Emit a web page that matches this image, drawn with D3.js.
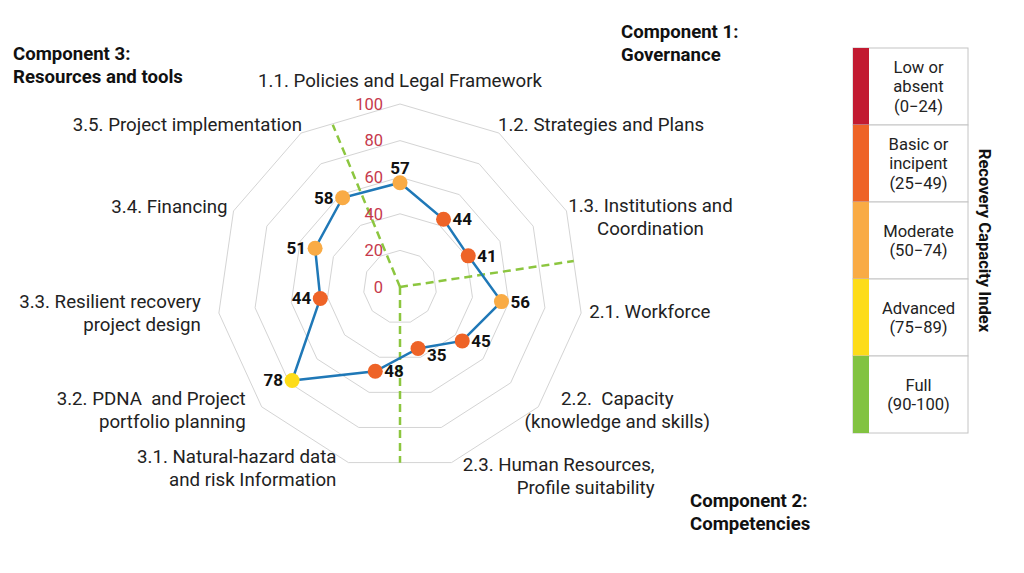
<!DOCTYPE html>
<html lang="en">
<head>
<meta charset="utf-8" />
<script src="https://cdnjs.cloudflare.com/ajax/libs/d3/7.8.5/d3.min.js"></script>
<style type="text/css">
    body { margin: 0; background: #fff; }
    svg { font-family: Roboto, "Open Sans", sans-serif; display: block; }
    svg text { white-space: pre; }
</style>
</head>
<body>
<div id="chart"></div>
<script type="text/javascript">
    // data
    var axes = [
        ["1.1. Policies and Legal Framework"],
        ["1.2. Strategies and Plans"],
        ["1.3. Institutions and", "Coordination"],
        ["2.1. Workforce"],
        ["2.2.  Capacity", "(knowledge and skills)"],
        ["2.3. Human Resources,", "Profile suitability"],
        ["3.1. Natural-hazard data", "and risk Information"],
        ["3.2. PDNA  and Project", "portfolio planning"],
        ["3.3. Resilient recovery", "project design"],
        ["3.4. Financing"],
        ["3.5. Project implementation"]
    ];
    var scores = [57, 44, 41, 56, 45, 35, 48, 78, 44, 51, 58];
    var ringTicks = [0, 20, 40, 60, 80, 100];
    var components = [
        ["Component 1:", "Governance"],
        ["Component 2:", "Competencies"],
        ["Component 3:", "Resources and tools"]
    ];
    var levelNames = [
        ["Low or", "absent", "(0\u221224)"],
        ["Basic or", "incipent", "(25\u221249)"],
        ["Moderate", "(50\u221274)"],
        ["Advanced", "(75\u221289)"],
        ["Full", "(90-100)"]
    ];
    var levelBreaks = [25, 50, 75, 90];
    var levelColors = ["#c21a31", "#ee6327", "#f9ab45", "#fddc19", "#82c341"];
    var legendTitle = "Recovery Capacity Index";

    var width = 1024, height = 573;
    var cx = 400, cy = 287, R = 183;

    var svg = d3.select("#chart").append("svg")
        .attr("width", width)
        .attr("height", height);

    var n = axes.length;
    var angle = d3.scaleLinear().domain([0, n]).range([0, 2 * Math.PI]);
    var r = d3.scaleLinear().domain([0, 100]).range([0, R]);
    var level = d3.scaleThreshold().domain(levelBreaks).range(levelColors);

    function pt(i, v) {
        var a = angle(i);
        return [cx + r(v) * Math.sin(a), cy - r(v) * Math.cos(a)];
    }

    // grid rings (hendecagons)
    var ring = d3.line();
    svg.append("g").selectAll("path")
        .data(ringTicks.slice(1))
        .enter().append("path")
        .attr("d", function (t) {
            return ring(d3.range(n).map(function (i) { return pt(i, t); })) + "Z";
        })
        .attr("fill", "none")
        .attr("stroke", "#d4d4d4")
        .attr("stroke-width", 1);

    // component dividers (green dashes)
    var dividers = [81.5, 180, 337.5];
    svg.append("g").selectAll("line")
        .data(dividers)
        .enter().append("line")
        .attr("x1", cx).attr("y1", cy)
        .attr("x2", function (d) { return cx + r(96) * Math.sin(d * Math.PI / 180); })
        .attr("y2", function (d) { return cy - r(96) * Math.cos(d * Math.PI / 180); })
        .attr("stroke", "#8cc63f")
        .attr("stroke-width", 2.5)
        .attr("stroke-dasharray", "8,5");

    // tick labels
    svg.append("g").selectAll("text")
        .data(ringTicks)
        .enter().append("text")
        .attr("x", cx - 17)
        .attr("y", function (t) { return cy - r(t); })
        .attr("dy", "0.35em")
        .attr("text-anchor", "end")
        .attr("fill", "#c6394c")
        .style("font-size", "16.5px")
        .text(function (t) { return t; });

    // axis labels: offset from the 100-ring vertex, anchor
    var labelLayout = [
        [0, -24, "middle"], [-1, -9, "start"], [84, -6, "middle"], [8, -2, "start"],
        [79, -8, "middle"], [203, 2, "end"], [-12, -6, "end"], [-16, -8, "end"],
        [-18, -12, "end"], [-6, -5, "end"], [1, -9, "end"]
    ];
    var axisLabels = svg.append("g").selectAll("text")
        .data(axes)
        .enter().append("text")
        .attr("text-anchor", function (d, i) { return labelLayout[i][2]; })
        .attr("fill", "#222")
        .style("font-size", "18.7px");
    axisLabels.each(function (lines, i) {
        var p = pt(i, 100);
        var x = p[0] + labelLayout[i][0], y = p[1] + labelLayout[i][1];
        d3.select(this).selectAll("tspan")
            .data(lines)
            .enter().append("tspan")
            .attr("x", x)
            .attr("y", function (l, j) { return y + j * 23; })
            .attr("dy", "0.35em")
            .text(function (l) { return l; });
    });

    // score line
    var pts = scores.map(function (v, i) { return pt(i, v); });
    svg.append("path")
        .attr("d", ring(pts) + "Z")
        .attr("fill", "none")
        .attr("stroke", "#1f78b7")
        .attr("stroke-width", 2.5);

    svg.append("g").selectAll("circle")
        .data(scores)
        .enter().append("circle")
        .attr("cx", function (v, i) { return pts[i][0]; })
        .attr("cy", function (v, i) { return pts[i][1]; })
        .attr("r", 7.5)
        .attr("fill", function (v) { return level(v); });

    // value labels
    var side = ["top", "right", "right", "right", "right", "below", "right", "left", "left", "left", "left"];
    svg.append("g").selectAll("text")
        .data(scores)
        .enter().append("text")
        .attr("x", function (v, i) {
            var s = side[i];
            if (s == "top") return pts[i][0];
            if (s == "left") return pts[i][0] - 9;
            return pts[i][0] + 9;
        })
        .attr("y", function (v, i) {
            var s = side[i];
            if (s == "top") return pts[i][1] - 15;
            if (s == "below") return pts[i][1] + 7;
            return pts[i][1];
        })
        .attr("dy", "0.35em")
        .attr("text-anchor", function (v, i) {
            return side[i] == "top" ? "middle" : (side[i] == "left" ? "end" : "start");
        })
        .attr("fill", "#111")
        .style("font-size", "17px")
        .style("font-weight", "bold")
        .text(function (v) { return v; });

    // component headings
    var compPos = [[621, 31], [690, 500], [13, 53]];
    svg.append("g").selectAll("text")
        .data(components)
        .enter().append("text")
        .attr("fill", "#111")
        .style("font-size", "18.6px")
        .style("font-weight", "bold")
        .each(function (lines, i) {
            d3.select(this).selectAll("tspan")
                .data(lines)
                .enter().append("tspan")
                .attr("x", compPos[i][0])
                .attr("y", function (l, j) { return compPos[i][1] + j * 23; })
                .attr("dy", "0.35em")
                .text(function (l) { return l; });
        });

    // legend
    var lx = 853, ly = 48, lw = 115, rowH = 77, stripW = 16;
    var legend = svg.append("g").attr("transform", "translate(" + lx + "," + ly + ")");
    var rows = legend.selectAll("g")
        .data(levelNames)
        .enter().append("g")
        .attr("transform", function (d, i) { return "translate(0," + i * rowH + ")"; });
    rows.append("rect")
        .attr("width", lw).attr("height", rowH)
        .attr("fill", "#fff")
        .attr("stroke", "#c4c4c4");
    rows.append("rect")
        .attr("width", stripW).attr("height", rowH)
        .attr("fill", function (d, i) { return levelColors[i]; });
    rows.append("text")
        .attr("text-anchor", "middle")
        .attr("fill", "#222")
        .style("font-size", "16.6px")
        .each(function (lines) {
            var y0 = rowH / 2 - (lines.length - 1) * 19.5 / 2;
            d3.select(this).selectAll("tspan")
                .data(lines)
                .enter().append("tspan")
                .attr("x", stripW + (lw - stripW) / 2)
                .attr("y", function (l, j) { return y0 + j * 19.5; })
                .attr("dy", "0.35em")
                .text(function (l) { return l; });
        });

    svg.append("text")
        .attr("transform", "translate(985," + (ly + 2.5 * rowH) + ") rotate(90)")
        .attr("text-anchor", "middle")
        .attr("dy", "0.35em")
        .attr("fill", "#111")
        .style("font-size", "16.6px")
        .style("font-weight", "bold")
        .text(legendTitle);
</script>
</body>
</html>
